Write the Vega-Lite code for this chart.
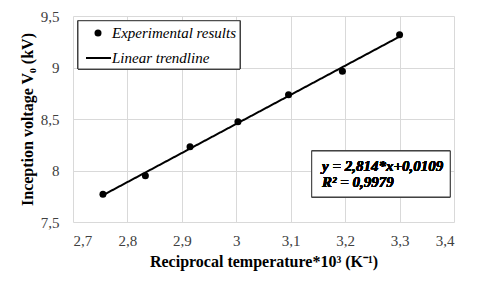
{
  "$schema": "https://vega.github.io/schema/vega-lite/v6.json",
  "width": 381,
  "height": 206,
  "autosize": {"type": "none"},
  "padding": {"left": 73, "top": 16, "right": 26, "bottom": 67},
  "background": "white",
  "data": {"values": [
    {"t": 2.755, "v": 7.77},
    {"t": 2.833, "v": 7.95},
    {"t": 2.915, "v": 8.23},
    {"t": 3.003, "v": 8.474},
    {"t": 3.096, "v": 8.736},
    {"t": 3.195, "v": 8.963},
    {"t": 3.300, "v": 9.318}
  ]},
  "encoding": {
    "x": {"field": "t", "type": "quantitative",
      "scale": {"domain": [2.7, 3.4], "nice": false, "zero": false},
      "axis": {"values": [2.7, 2.8, 2.9, 3.0, 3.1, 3.2, 3.3, 3.4],
        "labelExpr": "replace(format(datum.value,'.1~f'),'.',',')",
        "labelPadding": 11, "titlePadding": 5,
        "title": "Reciprocal temperature*10³ (K⁻¹)"}},
    "y": {"field": "v", "type": "quantitative",
      "scale": {"domain": [7.5, 9.5], "nice": false, "zero": false},
      "axis": {"values": [7.5, 8, 8.5, 9, 9.5],
        "labelExpr": "replace(format(datum.value,'.1~f'),'.',',')",
        "labelPadding": 14, "titlePadding": 5,
        "title": "Inception voltage V₀ (kV)"}}
  },
  "layer": [
    {
      "mark": {"type": "rect", "fill": "white", "stroke": "#404040", "strokeWidth": 1},
      "encoding": {
        "x": {"datum": 2.7092, "type": "quantitative"},
        "x2": {"datum": 3.0068},
        "y": {"datum": 9.454, "type": "quantitative"},
        "y2": {"datum": 8.985}
      }
    },
    {
      "transform": [{"regression": "v", "on": "t"}],
      "mark": {"type": "line", "color": "black", "strokeWidth": 2},
      "encoding": {
        "strokeDash": {"datum": "Linear trendline",
          "scale": {"domain": ["Linear trendline"], "range": [[1, 0]]},
          "legend": {
            "orient": "none", "legendX": 12, "legendY": 28.5, "title": null, "padding": 0,
            "symbolType": "stroke", "symbolSize": 625, "symbolStrokeWidth": 2, "symbolStrokeColor": "black",
            "labelOffset": 0
          }}
      }
    },
    {
      "mark": {"type": "point", "filled": true, "color": "black", "opacity": 1, "size": 49},
      "encoding": {
        "shape": {"datum": "Experimental results",
          "scale": {"domain": ["Experimental results"], "range": ["circle"]},
          "legend": {
            "orient": "none", "legendX": 17.5, "legendY": 9.5, "title": null, "padding": 0,
            "symbolSize": 49, "symbolFillColor": "black", "symbolStrokeWidth": 0,
            "labelOffset": 6.5
          }}
      }
    },
    {
      "mark": {"type": "rect", "fill": "white", "stroke": "#404040", "strokeWidth": 1},
      "encoding": {
        "x": {"datum": 3.1386, "type": "quantitative"},
        "x2": {"datum": 3.393},
        "y": {"datum": 8.189, "type": "quantitative"},
        "y2": {"datum": 7.743}
      }
    },
    {
      "mark": {"type": "text", "align": "left", "baseline": "middle", "font": "Liberation Serif", "fontSize": 15, "fontStyle": "italic", "fontWeight": "bold", "fill": "black"},
      "encoding": {
        "x": {"datum": 3.1575, "type": "quantitative"},
        "y": {"datum": 8.047, "type": "quantitative"},
        "text": {"value": "y = 2,814*x+0,0109"}
      }
    },
    {
      "mark": {"type": "text", "align": "left", "baseline": "middle", "font": "Liberation Serif", "fontSize": 15, "fontStyle": "italic", "fontWeight": "bold", "fill": "black"},
      "encoding": {
        "x": {"datum": 3.1575, "type": "quantitative"},
        "y": {"datum": 7.891, "type": "quantitative"},
        "text": {"value": "R² = 0,9979"}
      }
    }
  ],
  "config": {
    "view": {"stroke": null},
    "axis": {
      "grid": true, "gridColor": "#d9d9d9", "gridWidth": 1,
      "domain": false, "ticks": false,
      "labelFont": "Liberation Serif", "labelFontSize": 15, "labelColor": "#404040",
      "titleFont": "Liberation Serif", "titleFontSize": 16, "titleFontWeight": "bold", "titleColor": "black"
    },
    "legend": {
      "labelFont": "Liberation Serif", "labelFontSize": 15, "labelFontStyle": "italic", "labelColor": "black"
    }
  }
}
